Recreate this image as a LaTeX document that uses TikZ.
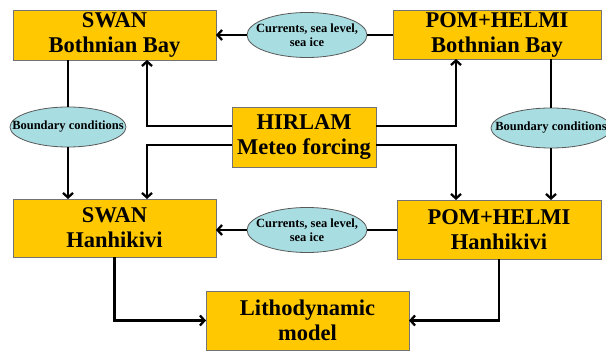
\documentclass[tikz,border=0pt]{standalone}
\usepackage{fontspec}
\setmainfont{Liberation Serif}
\usetikzlibrary{arrows.meta,shapes.geometric}
\definecolor{boxfill}{HTML}{FFC800}
\definecolor{ellfill}{HTML}{A8DDE2}
\tikzset{
  box/.style={draw=black!55, line width=0.8pt, fill=boxfill, inner sep=0pt, outer sep=0pt,
    align=center, font=\fontsize{22.5}{25}\selectfont\bfseries},
  ell/.style={ellipse, draw=black!65, line width=0.8pt, fill=ellfill, inner xsep=-30pt, inner ysep=-4pt, outer sep=0pt,
    align=center, font=\fontsize{12.5}{14.5}\selectfont\bfseries},
  conn/.style={line width=2.3pt, draw=black},
  arr/.style={conn, -{Straight Barb[length=4.5pt,width=10pt,line width=2.3pt]}}
}
\begin{document}
\begin{tikzpicture}[x=1pt,y=-1pt]
\useasboundingbox (0,0) rectangle (606,352);
\node[box, minimum width=203pt, minimum height=50pt] (swanBB) at (114.5,35) {SWAN\\Bothnian Bay};
\node[box, minimum width=208pt, minimum height=49pt] (pomBB) at (497,34.5) {POM+HELMI\\Bothnian Bay};
\node[box, minimum width=144pt, minimum height=60pt] (hirlam) at (304,137) {HIRLAM\\Meteo forcing};
\node[box, minimum width=203pt, minimum height=58pt] (swanH) at (114.5,228) {SWAN\\Hanhikivi};
\node[box, minimum width=204pt, minimum height=59pt] (pomH) at (499,229.5) {POM+HELMI\\Hanhikivi};
\node[box, minimum width=203pt, minimum height=59pt] (litho) at (307.5,320.5) {Lithodynamic\\model};
\node[ell, minimum width=120pt, minimum height=45pt] (curTop) at (307,35) {Currents, sea level,\\sea ice};
\node[ell, minimum width=120pt, minimum height=45pt] (curBot) at (307,230) {Currents, sea level,\\sea ice};
\node[ell, minimum width=116pt, minimum height=40pt] (bcL) at (68,127) {Boundary conditions};
\node[ell, minimum width=120pt, minimum height=40pt] (bcR) at (551,128) {Boundary conditions};
% top exchange
\draw[arr] (curTop.west) -- (curTop.west -| swanBB.east);
\draw[conn] (curTop.east) -- (curTop.east -| pomBB.west);
% boundary conditions
\draw[conn] (bcL.north |- swanBB.south) -- (bcL.north);
\draw[arr] (bcL.south) -- (bcL.south |- swanH.north);
\draw[conn] (bcR.north |- pomBB.south) -- (bcR.north);
\draw[arr] (bcR.south) -- (bcR.south |- pomH.north);
% HIRLAM forcing
\draw[arr] (hirlam.west |- 0,126) -| (147,0 |- swanBB.south);
\draw[arr] (hirlam.west |- 0,145) -| (147,0 |- swanH.north);
\draw[arr] (hirlam.east |- 0,126) -| (456,0 |- pomBB.south);
\draw[arr] (hirlam.east |- 0,145) -| (456,0 |- pomH.north);
% bottom exchange
\draw[arr] (curBot.west) -- (curBot.west -| swanH.east);
\draw[conn] (curBot.east) -- (curBot.east -| pomH.west);
% to lithodynamic model
\draw[arr] (swanH.south) |- (litho.west);
\draw[arr] (pomH.south) |- (litho.east);
\end{tikzpicture}
\end{document}
